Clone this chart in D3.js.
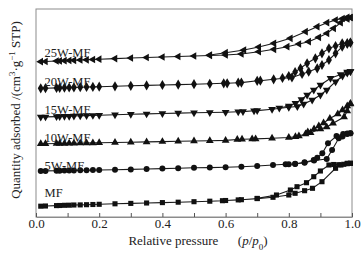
<!DOCTYPE html>
<html>
<head>
<meta charset="utf-8">
<script src="https://cdn.jsdelivr.net/npm/d3@7"></script>
<style>
  body { margin: 0; background: #fff; }
  svg text { font-family: "Liberation Serif", "Times New Roman", serif; fill: #222; }
</style>
</head>
<body>
<svg id="chart" width="362" height="257"></svg>
<script>
// isotherm data, p/p0 vs quantity (offset stacked, arbitrary units)
const seriesNames = ["MF", "5W-MF", "10W-MF", "15W-MF", "20W-MF", "25W-MF"];

const mfAds = [[0.015,10.8],[0.03,11],[0.065,11.4],[0.075,11.5],[0.09,11.7],[0.105,11.8],[0.12,12],[0.14,12.1],[0.16,12.3],[0.18,12.5],[0.20,12.7],[0.25,13.2],[0.30,13.6],[0.35,14],[0.40,14.4],[0.45,14.8],[0.50,15.3],[0.55,15.8],[0.59,16.3],[0.60,16.5],[0.64,17.1],[0.65,17.3],[0.70,18.4],[0.75,19.7],[0.80,22],[0.82,23.7],[0.85,26.3],[0.875,28.7],[0.905,35.3],[0.948,48.7],[0.965,52],[0.985,53.3],[0.995,53.7]];
const mfDes = [[0.995,53.7],[0.985,53.7],[0.974,52.7],[0.958,52.3],[0.942,52.5],[0.927,52],[0.90,46],[0.879,40.3],[0.856,34.3],[0.826,30.3],[0.805,27],[0.761,22],[0.70,18.6]];

const w5Ads = [[0.015,46],[0.03,46.1],[0.065,46.3],[0.075,46.3],[0.09,46.4],[0.105,46.5],[0.12,46.6],[0.14,46.7],[0.16,46.8],[0.18,46.9],[0.20,47],[0.25,47.3],[0.30,47.6],[0.35,48],[0.40,48.4],[0.45,48.8],[0.50,49.2],[0.55,49.4],[0.60,49.7],[0.65,50.3],[0.70,51],[0.75,52],[0.79,52.7],[0.80,52.7],[0.82,53],[0.85,54.3],[0.88,56.5],[0.92,58],[0.937,67],[0.958,78.7],[0.97,80.5],[0.985,83],[0.995,83.7]];
const w5Des = [[0.995,83.7],[0.985,83.5],[0.972,83],[0.951,81],[0.924,73.7],[0.906,63.7],[0.89,59.3],[0.879,57],[0.85,54.7],[0.82,53.3]];

const w10Ads = [[0.015,73.2],[0.03,73.3],[0.065,73.5],[0.075,73.5],[0.09,73.6],[0.105,73.7],[0.12,73.8],[0.14,73.9],[0.16,74],[0.18,74.1],[0.20,74.2],[0.25,74.5],[0.30,74.8],[0.35,75.1],[0.40,75.4],[0.45,75.7],[0.50,76],[0.55,76.3],[0.60,76.6],[0.637,77.5],[0.652,77.7],[0.684,78],[0.695,78.1],[0.747,78.7],[0.80,79.5],[0.821,80.3],[0.832,81],[0.853,83],[0.869,84.3],[0.90,88],[0.92,90],[0.94,93.7],[0.975,100],[0.985,106],[0.995,113]];
const w10Des = [[0.995,113.5],[0.985,111],[0.97,107],[0.955,103],[0.93,98.5],[0.91,94],[0.895,91],[0.88,88],[0.86,85]];

const w15Ads = [[0.015,100],[0.03,100.1],[0.065,100.4],[0.075,100.5],[0.09,100.7],[0.105,100.8],[0.12,101],[0.14,101.2],[0.16,101.4],[0.18,101.6],[0.20,101.8],[0.25,102.3],[0.30,102.7],[0.35,103.1],[0.40,103.5],[0.45,103.9],[0.50,104.2],[0.55,104.5],[0.60,104.8],[0.64,105.3],[0.655,105.4],[0.69,106.2],[0.70,106.4],[0.747,107.7],[0.80,109.7],[0.827,110.5],[0.847,113],[0.874,117],[0.90,122],[0.92,127],[0.948,135.3],[0.97,141],[0.985,144],[0.995,145.5]];
const w15Des = [[0.995,145.5],[0.985,145],[0.964,142.5],[0.932,138.7],[0.90,132],[0.879,127],[0.858,122],[0.84,117.5],[0.821,113.7],[0.80,111],[0.77,109]];

const w20Ads = [[0.015,128.7],[0.03,128.8],[0.065,129.1],[0.075,129.2],[0.09,129.3],[0.105,129.5],[0.12,129.6],[0.14,129.8],[0.16,130],[0.18,130.1],[0.20,130.3],[0.25,130.7],[0.30,131.2],[0.35,131.6],[0.40,132],[0.45,132.4],[0.50,132.8],[0.55,133.2],[0.594,133.7],[0.605,133.7],[0.64,134.3],[0.65,134.4],[0.70,136.2],[0.71,136.3],[0.752,137.7],[0.81,139.5],[0.842,143],[0.863,145.3],[0.89,148.7],[0.905,152],[0.927,157],[0.948,163.7],[0.969,170.3],[0.985,173],[0.995,174.3]];
const w20Des = [[0.995,174.3],[0.985,174],[0.969,173.7],[0.948,171],[0.927,168.7],[0.905,163.7],[0.884,158.7],[0.858,153.7],[0.837,148.7],[0.82,145],[0.80,141],[0.78,139]];

const w25Ads = [[0.015,155.3],[0.03,155.5],[0.065,156],[0.075,156.1],[0.09,156.3],[0.105,156.5],[0.12,156.7],[0.14,157],[0.16,157.2],[0.18,157.5],[0.20,157.8],[0.25,158.4],[0.30,159],[0.35,159.5],[0.40,160],[0.45,160.5],[0.50,161],[0.55,161.5],[0.60,162],[0.65,163],[0.705,165.3],[0.753,167.7],[0.795,170.3],[0.832,173],[0.863,175.3],[0.895,179.7],[0.921,183.7],[0.942,188.7],[0.964,194.3],[0.985,198],[0.995,199.5]];
const w25Des = [[0.995,199.5],[0.985,199.7],[0.97,198.5],[0.948,197],[0.921,194.3],[0.89,190.3],[0.853,185.3],[0.805,178.7],[0.753,173.7],[0.705,170],[0.658,167],[0.60,164.3],[0.55,162]];

// where each label sits, in data units (p/p0, quantity)
const labelP = 0.027;
const labelQ = [20, 47.5, 75, 103.5, 131.5, 160];

const xTicks = [0, 0.2, 0.4, 0.6, 0.8, 1.0];
const xMinorTicks = [0.1, 0.3, 0.5, 0.7, 0.9];

const svg = d3.select("#chart");
const margin = {top: 9, right: 10, bottom: 40, left: 36};
const W = 362, H = 257;
const w = W - margin.left - margin.right;
const h = H - margin.top - margin.bottom;
const g = svg.append("g").attr("transform", `translate(${margin.left},${margin.top})`);

const x = d3.scaleLinear().domain([0, 1]).range([0, w]);
const y = d3.scaleLinear().domain([0, 208]).range([h, 0]);

// frame
g.append("rect").attr("width", w).attr("height", h)
  .attr("fill", "none").attr("stroke", "#8c8c8c").attr("stroke-width", 1);

// bottom axis, ticks pointing inward
const xAxis = g.append("g").attr("transform", `translate(0,${h})`)
  .call(d3.axisBottom(x).tickValues(xTicks).tickFormat(d3.format(".1f")).tickSizeInner(-4).tickSizeOuter(0).tickPadding(2));
xAxis.select(".domain").attr("stroke", "#8c8c8c");
xAxis.selectAll(".tick line").attr("stroke", "#555");
xAxis.selectAll("text").style("font-size", "13px").attr("fill", "#222");
g.append("g").attr("transform", `translate(0,${h})`)
  .call(d3.axisBottom(x).tickValues(xMinorTicks).tickFormat("").tickSizeInner(-4).tickSizeOuter(0))
  .call(a => a.select(".domain").remove())
  .selectAll(".tick line").attr("stroke", "#555");

const allSeries = [
  {ads: mfAds, des: mfDes, sym: d3.symbolSquare, size: 26, rot: 0},
  {ads: w5Ads, des: w5Des, sym: d3.symbolCircle, size: 28, rot: 0},
  {ads: w10Ads, des: w10Des, sym: d3.symbolTriangle, size: 26, rot: 0},
  {ads: w15Ads, des: w15Des, sym: d3.symbolTriangle, size: 26, rot: 180},
  {ads: w20Ads, des: w20Des, sym: d3.symbolDiamond, size: 30, rot: 0},
  {ads: w25Ads, des: w25Des, sym: d3.symbolTriangle, size: 26, rot: -90}
];

const line = d3.line().x(d => x(d[0])).y(d => y(d[1]));

allSeries.forEach((s, i) => {
  const sg = g.append("g");
  [s.ads, s.des].forEach(arr => {
    sg.append("path").datum(arr).attr("d", line)
      .attr("fill", "none").attr("stroke", "#1a1a1a").attr("stroke-width", 1.1);
    sg.selectAll(null).data(arr).join("path")
      .attr("d", d3.symbol().type(s.sym).size(s.size))
      .attr("transform", d => `translate(${x(d[0])},${y(d[1])}) rotate(${s.rot})`)
      .attr("fill", "#111");
  });
  g.append("text")
    .attr("x", x(labelP)).attr("y", y(labelQ[i]))
    .style("font-size", "12.5px")
    .text(seriesNames[i]);
});

// axis titles
const xt = svg.append("text")
  .attr("x", 198).attr("y", 245)
  .attr("text-anchor", "middle")
  .style("font-size", "13px");
xt.append("tspan").text("Relative pressure\u2003\u2002(");
xt.append("tspan").style("font-style", "italic").text("p");
xt.append("tspan").text("/");
xt.append("tspan").style("font-style", "italic").text("p");
xt.append("tspan").attr("baseline-shift", "sub").style("font-size", "9px").text("0");
xt.append("tspan").text(")");

const yt = svg.append("text")
  .attr("transform", "translate(20,110) rotate(-90)")
  .attr("text-anchor", "middle")
  .style("font-size", "13px");
yt.append("tspan").text("Quantity adsorbed /(cm");
yt.append("tspan").attr("baseline-shift", "super").style("font-size", "9px").text("3");
yt.append("tspan").text("\u00b7g");
yt.append("tspan").attr("baseline-shift", "super").style("font-size", "9px").text("\u22121");
yt.append("tspan").text(" STP)");
</script>
</body>
</html>
